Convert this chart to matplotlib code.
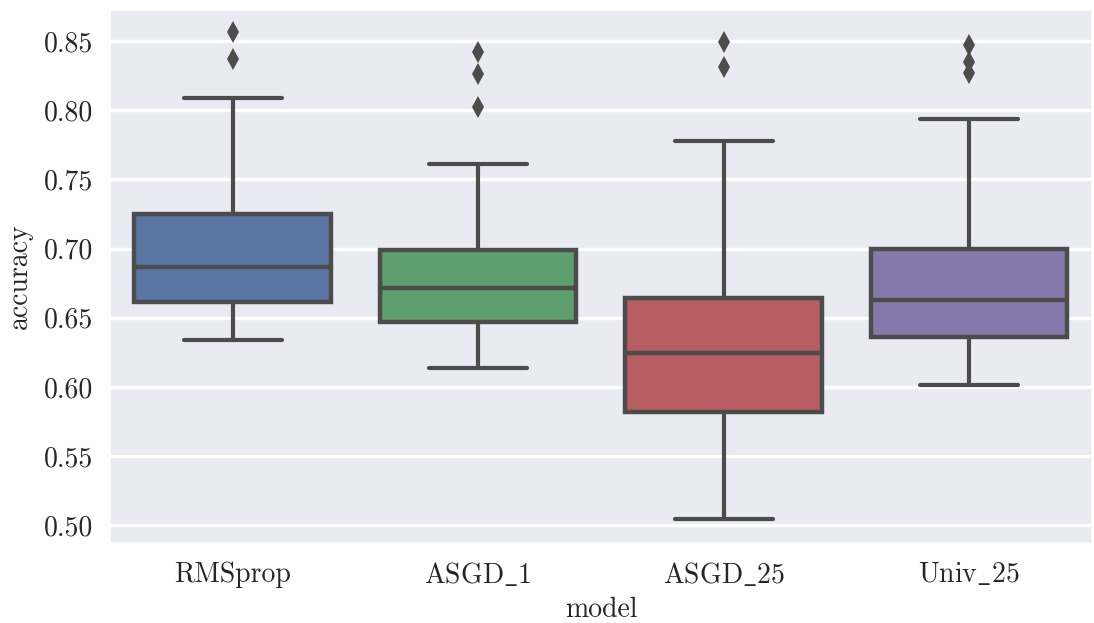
import matplotlib
matplotlib.use("Agg")
import matplotlib.pyplot as plt
import seaborn as sns

models = ["RMSprop", "ASGD_1", "ASGD_25", "Univ_25"]
labels = [r"RMSprop", r"ASGD$\_$1", r"ASGD$\_$25", r"Univ$\_$25"]
whisker_low = [0.6338, 0.6135, 0.5043, 0.6012]
q1 = [0.6613, 0.6468, 0.5817, 0.6360]
median = [0.6866, 0.6714, 0.6244, 0.6627]
q3 = [0.7249, 0.6989, 0.6642, 0.6996]
whisker_high = [0.8088, 0.7611, 0.7777, 0.7936]
outliers = [
    [0.8565, 0.8370],
    [0.8420, 0.8260, 0.8023],
    [0.8493, 0.8312],
    [0.8471, 0.8348, 0.8269],
]
colors = ["#5875a4", "#5f9e6e", "#b55d60", "#857aab"]

sns.set_theme(style="darkgrid")
plt.rcParams["font.family"] = ["serif"]
plt.rcParams["font.serif"] = ["cmr10", "DejaVu Serif"]
plt.rcParams["mathtext.fontset"] = "cm"
plt.rcParams["axes.formatter.use_mathtext"] = True

gray = "#4c4c4c"
stats = []
for i in range(len(models)):
    stats.append({
        "label": labels[i],
        "whislo": whisker_low[i],
        "q1": q1[i],
        "med": median[i],
        "q3": q3[i],
        "whishi": whisker_high[i],
        "fliers": outliers[i],
    })

fig = plt.figure(figsize=(10.94, 6.23), dpi=100)
ax = fig.add_axes([0.1005, 0.128, 0.8975, 0.856])

bp = ax.bxp(stats, positions=range(len(models)), widths=0.8,
            patch_artist=True, showfliers=True,
            boxprops=dict(edgecolor=gray, linewidth=3.2),
            medianprops=dict(color=gray, linewidth=3.2),
            whiskerprops=dict(color=gray, linewidth=3, solid_capstyle="butt"),
            capprops=dict(color=gray, linewidth=3, solid_capstyle="round"),
            flierprops=dict(marker="d", markersize=11, markerfacecolor=gray,
                            markeredgewidth=0, linestyle="none"),
            capwidths=0.4)
for patch, c in zip(bp["boxes"], colors):
    patch.set_facecolor(c)

ax.set_xlim(-0.5, 3.5)
ax.set_ylim(0.487, 0.8724)
ax.set_yticks([0.50, 0.55, 0.60, 0.65, 0.70, 0.75, 0.80, 0.85])
ax.set_yticklabels(["0.50", "0.55", "0.60", "0.65", "0.70", "0.75", "0.80", "0.85"])
ax.grid(axis="x", visible=False)
ax.grid(axis="y", color="white", linewidth=2.5)
ax.set_axisbelow(True)
ax.tick_params(labelsize=20, length=0)
ax.tick_params(axis="x", pad=13)
ax.tick_params(axis="y", pad=12)
ax.set_xlabel("model", fontsize=20, labelpad=5)
ax.set_ylabel("accuracy", fontsize=20, labelpad=8)

fig.savefig("out.png", dpi=100)
